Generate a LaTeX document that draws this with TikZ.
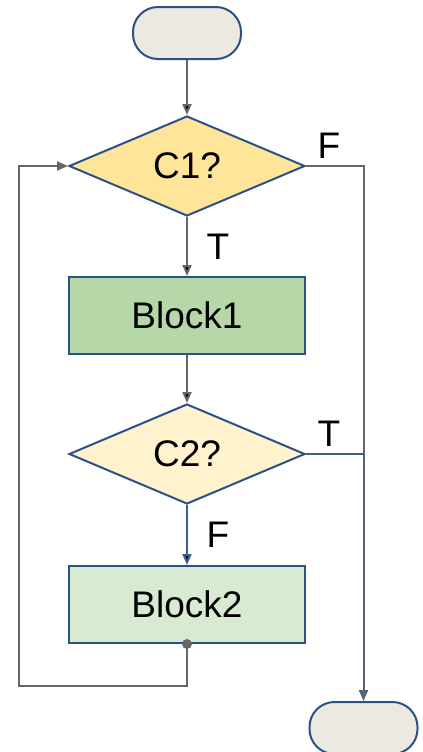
\documentclass[tikz,border=0pt]{standalone}
\usepackage{fontspec}
\setmainfont{Liberation Sans}
\usetikzlibrary{shapes.geometric,arrows.meta}

\definecolor{bordercol}{HTML}{2B5287}
\definecolor{linecol}{HTML}{666666}
\definecolor{bluecol}{HTML}{3C5F8F}
\definecolor{slatecol}{HTML}{56637A}
\definecolor{termfill}{HTML}{ECEAE0}
\definecolor{cfillA}{HTML}{FFE599}
\definecolor{cfillB}{HTML}{FFF2CC}
\definecolor{bfillA}{HTML}{B6D7A8}
\definecolor{bfillB}{HTML}{D9EAD3}

\begin{document}
\begin{tikzpicture}[>={Triangle[length=5.5pt,width=4.5pt]},line width=1pt,
        font=\fontsize{18.5pt}{22pt}\selectfont,
        term node/.style={rectangle,rounded corners=12.5pt,draw=bordercol,fill=termfill,minimum width=54pt,minimum height=26pt},
        cond node/.style={diamond,aspect=2.4,draw=bordercol,inner sep=0pt,minimum width=118pt,minimum height=50pt},
        block node/.style={rectangle,draw=bordercol,minimum width=118pt,minimum height=38.5pt},
        flow/.style={draw=linecol}]
    \useasboundingbox (0,0) rectangle (211.5pt,-376pt);

    \node[term node] (start) at (93.5pt,-16.5pt) {};
    \node[cond node,fill=cfillA] (c1) [below of=start,node distance=66.5pt] {C1?};
    \node[block node,fill=bfillA] (block1) [below of=c1,node distance=74.75pt] {Block1};
    \node[cond node,fill=cfillB] (c2) [below of=block1,node distance=69.25pt] {C2?};
    \node[block node,fill=bfillB] (block2) [below of=c2,node distance=75.25pt] {Block2};
    \node[term node] (end) [below of=block2,node distance=61.75pt,xshift=88.25pt] {};

    \coordinate (j1) at (c1.east -| end.north);
    \coordinate (j2) at (c2.east -| end.north);
    \coordinate (lb) at ([yshift=-21pt]block2.south);
    \coordinate (lc) at (lb -| 9.5pt,0);
    \coordinate (ld) at (lc |- c1.west);

    \path[->,flow]
    (start) edge node {} (c1)
    (c1) edge node[right=6pt] {T} (block1)
    (block1) edge node {} (c2);
    \path[->,draw=bluecol]
    (c2) edge node[right=6pt,text=black] {F} (block2);

    % loop back to C1
    \fill[linecol] (block2.south) circle (2.5pt);
    \draw[->,flow] (block2.south) -- (lb) -- (lc) -- (ld) -- (c1.west);

    % exits
    \draw[flow] (c1.east) -- node[above,pos=0.4] {F} (j1) -- (j2);
    \draw[draw=bluecol] (c2.east) -- node[above,pos=0.4] {T} (j2);
    \draw[->,draw=slatecol] (j2) -- (end.north);
\end{tikzpicture}
\end{document}
